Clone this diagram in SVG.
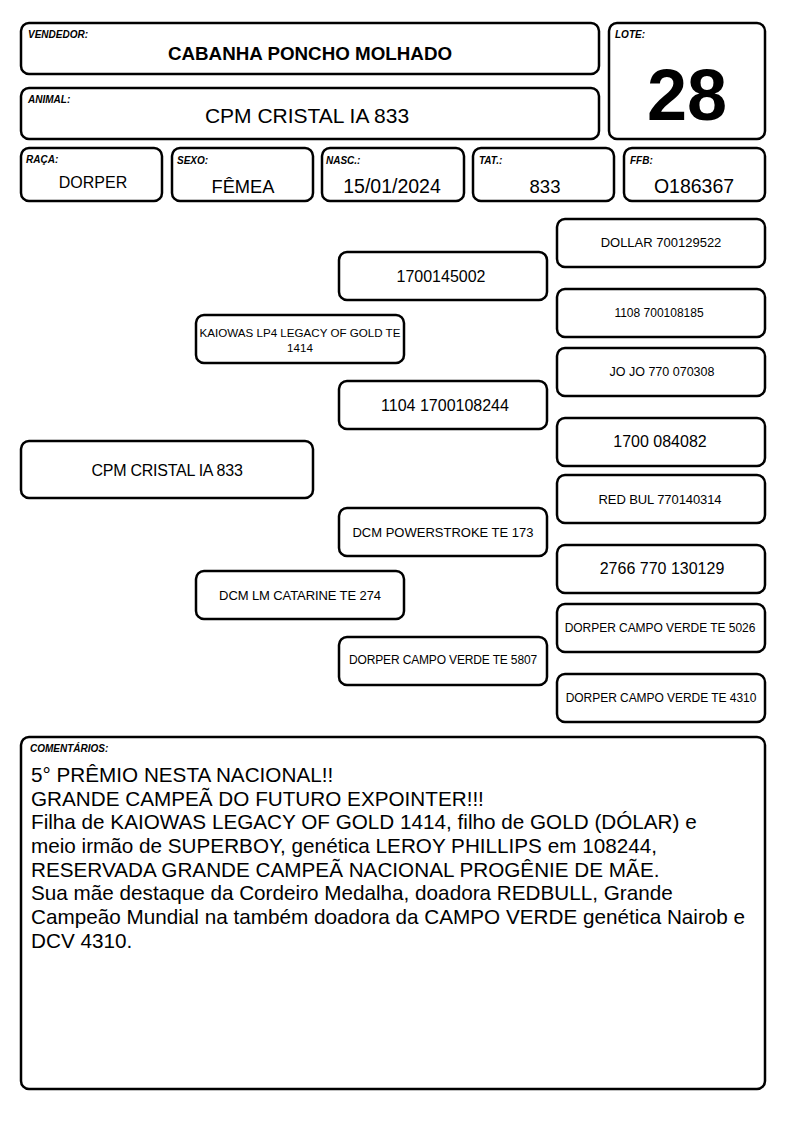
<svg xmlns="http://www.w3.org/2000/svg" width="794" height="1123" viewBox="0 0 794 1123">
<style>
rect{fill:#fff;stroke:#000;stroke-width:2.5}
text{font-family:"Liberation Sans",Arial,sans-serif;fill:#000}
.lbl{font-size:10px;font-weight:bold;font-style:italic}
.v{text-anchor:middle}
.c{font-size:20.7px}
</style>
<rect x="0" y="0" width="794" height="1123" style="fill:#fff;stroke:none"/>
<g id="vendedor"><rect x="21" y="23" width="578" height="51" rx="8"/><text class="lbl" x="28" y="38">VENDEDOR:</text><text class="v" x="310" y="60" font-size="18.8" font-weight="bold">CABANHA PONCHO MOLHADO</text></g>
<g id="lote"><rect x="609" y="23" width="156" height="116" rx="8"/><text class="lbl" x="615" y="38">LOTE:</text><text class="v" x="687" y="120" font-size="72" font-weight="bold">28</text></g>
<g id="animal"><rect x="21" y="88" width="578" height="51" rx="8"/><text class="lbl" x="28" y="103">ANIMAL:</text><text class="v" x="307" y="123" font-size="21">CPM CRISTAL IA 833</text></g>
<g id="raca"><rect x="21" y="148" width="141" height="53" rx="8"/><text class="lbl" x="26" y="163">RAÇA:</text><text class="v" x="93" y="188" font-size="16">DORPER</text></g>
<g id="sexo"><rect x="172" y="148" width="141" height="53" rx="8"/><text class="lbl" x="177" y="164">SEXO:</text><text class="v" x="243" y="193" font-size="18.3">FÊMEA</text></g>
<g id="nasc"><rect x="322" y="148" width="142" height="53" rx="8"/><text class="lbl" x="326" y="164">NASC.:</text><text class="v" x="392" y="193" font-size="19.5">15/01/2024</text></g>
<g id="tat"><rect x="473" y="148" width="141" height="53" rx="8"/><text class="lbl" x="479" y="164">TAT.:</text><text class="v" x="545" y="193" font-size="18.5">833</text></g>
<g id="ffb"><rect x="624" y="148" width="141" height="53" rx="8"/><text class="lbl" x="630" y="164">FFB:</text><text class="v" x="694" y="193" font-size="19.5">O186367</text></g>
<g id="p-animal"><rect x="21" y="441" width="292" height="57" rx="8"/><text class="v" x="167" y="476" font-size="16" letter-spacing="-0.25">CPM CRISTAL IA 833</text></g>
<g id="p-sire"><rect x="196" y="315" width="208" height="48" rx="8"/><text class="v" x="300" y="337" font-size="11.6">KAIOWAS LP4 LEGACY OF GOLD TE</text><text class="v" x="300" y="352" font-size="11.6">1414</text></g>
<g id="p-dam"><rect x="196" y="571" width="208" height="48" rx="8"/><text class="v" x="300" y="600" font-size="13" letter-spacing="-0.1">DCM LM CATARINE TE 274</text></g>
<g id="p-ss"><rect x="339" y="252" width="208" height="48" rx="8"/><text class="v" x="441" y="282" font-size="16">1700145002</text></g>
<g id="p-sd"><rect x="339" y="381" width="208" height="48" rx="8"/><text class="v" x="445" y="411" font-size="16">1104 1700108244</text></g>
<g id="p-ds"><rect x="339" y="508" width="208" height="48" rx="8"/><text class="v" x="443" y="537" font-size="13">DCM POWERSTROKE TE 173</text></g>
<g id="p-dd"><rect x="339" y="637" width="208" height="48" rx="8"/><text class="v" x="443" y="664" font-size="12" letter-spacing="-0.15">DORPER CAMPO VERDE TE 5807</text></g>
<g id="p-sss"><rect x="557" y="219" width="208" height="48" rx="8"/><text class="v" x="661" y="247" font-size="13">DOLLAR 700129522</text></g>
<g id="p-ssd"><rect x="557" y="289" width="208" height="48" rx="8"/><text class="v" x="659" y="317" font-size="12">1108 700108185</text></g>
<g id="p-sds"><rect x="557" y="348" width="208" height="48" rx="8"/><text class="v" x="662" y="376" font-size="12.5">JO JO 770 070308</text></g>
<g id="p-sdd"><rect x="557" y="418" width="208" height="48" rx="8"/><text class="v" x="660" y="447" font-size="16">1700 084082</text></g>
<g id="p-dss"><rect x="557" y="475" width="208" height="48" rx="8"/><text class="v" x="660" y="504" font-size="13" letter-spacing="-0.1">RED BUL 770140314</text></g>
<g id="p-dsd"><rect x="557" y="545" width="208" height="48" rx="8"/><text class="v" x="662" y="574" font-size="16">2766 770 130129</text></g>
<g id="p-dds"><rect x="557" y="604" width="208" height="48" rx="8"/><text class="v" x="660" y="632" font-size="12" letter-spacing="-0.05">DORPER CAMPO VERDE TE 5026</text></g>
<g id="p-ddd"><rect x="557" y="674" width="208" height="48" rx="8"/><text class="v" x="661" y="702" font-size="12" letter-spacing="-0.05">DORPER CAMPO VERDE TE 4310</text></g>
<g id="comentarios"><rect x="21" y="737" width="744" height="352" rx="8"/><text class="lbl" x="30" y="752">COMENTÁRIOS:</text>
<text class="c" x="31" y="782">5° PRÊMIO NESTA NACIONAL!!</text>
<text class="c" x="31" y="806">GRANDE CAMPEÃ DO FUTURO EXPOINTER!!!</text>
<text class="c" x="31" y="829">Filha de KAIOWAS LEGACY OF GOLD 1414, filho de GOLD (DÓLAR) e</text>
<text class="c" x="31" y="853">meio irmão de SUPERBOY, genética LEROY PHILLIPS em 108244,</text>
<text class="c" x="31" y="877">RESERVADA GRANDE CAMPEÃ NACIONAL PROGÊNIE DE MÃE.</text>
<text class="c" x="31" y="900">Sua mãe destaque da Cordeiro Medalha, doadora REDBULL, Grande</text>
<text class="c" x="31" y="924">Campeão Mundial na também doadora da CAMPO VERDE genética Nairob e</text>
<text class="c" x="31" y="948">DCV 4310.</text>
</g>
<g id="connectors"></g>
</svg>
